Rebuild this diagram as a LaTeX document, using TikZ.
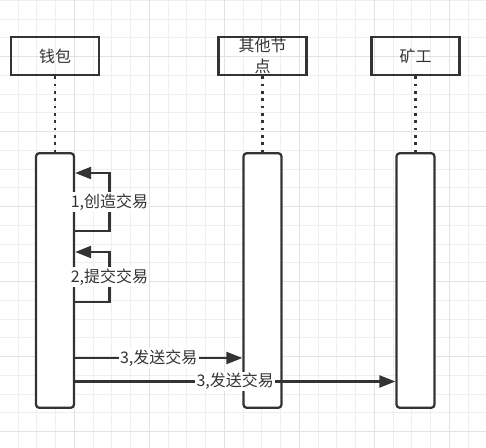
\documentclass[tikz,border=0pt]{standalone}
\usepackage{fontspec}
\setmainfont{Noto Sans CJK SC}
\usetikzlibrary{arrows.meta}
\definecolor{ink}{HTML}{333333}
\definecolor{gridminor}{HTML}{EFEFEF}
\definecolor{gridmajor}{HTML}{E2E2E2}
\tikzset{
  actor/.style={draw=ink,line width=2pt,minimum width=66pt,minimum height=28.5pt,
    inner sep=0pt,align=center,text=ink,font=\fontsize{12}{16.2}\selectfont},
  lifebar/.style={draw=ink,fill=white,line width=1.7pt,rounded corners=2.5pt,
    minimum width=28.5pt,minimum height=191pt},
  lifeline/.style={draw=ink,line width=2pt,dash pattern=on 2pt off 3.5pt},
  msg/.style={draw=ink,line width=1.7pt,-{Triangle[length=12pt,width=9pt]}},
  lbl/.style={fill=white,inner sep=1pt,text=ink,font=\fontsize{12}{14}\selectfont},
}
\begin{document}
\begin{tikzpicture}[x=0.75pt,y=-0.75pt]
  \useasboundingbox (0,0) rectangle (486,448);
  % grid
  \foreach \k in {1,...,25}
    \draw[gridminor,line width=0.75pt] ({18.75*\k-0.7},0) -- ({18.75*\k-0.7},448);
  \foreach \k in {0,...,23}
    \draw[gridminor,line width=0.75pt] (0,{18.75*\k+0.3}) -- (486,{18.75*\k+0.3});
  \foreach \k in {4,8,...,24}
    \draw[gridmajor,line width=0.75pt] ({18.75*\k-0.7},0) -- ({18.75*\k-0.7},448);
  \foreach \k in {3,7,...,23}
    \draw[gridmajor,line width=0.75pt] (0,{18.75*\k+0.3}) -- (486,{18.75*\k+0.3});

  \draw
    (55,56) node[actor] (wallet){钱包}
    (262.5,56) node[actor] (other){其他节\\点}
    (415.5,56) node[actor] (miner){矿工};
  \draw
    (55,280.5) node[lifebar] (walletbar){}
    (262.5,280.5) node[lifebar] (otherbar){}
    (415.5,280.5) node[lifebar] (minerbar){};
  \begin{scope}[lifeline]
    \draw (wallet.south) to (walletbar.north);
    \draw (other.south) to (otherbar.north);
    \draw (miner.south) to (minerbar.north);
  \end{scope}

  % messages
  \coordinate (c1a) at (109.5,231);
  \coordinate (c1b) at (109.5,173);
  \coordinate (c2a) at (109.5,302);
  \coordinate (c2b) at (109.5,252);
  \coordinate (m3a) at (0,358);
  \coordinate (m3b) at (0,381.5);
  \begin{scope}[msg]
    \draw (walletbar.east |- c1a) -- (c1a) -- node[lbl]{1,创造交易} (c1b) -- (walletbar.east |- c1b);
    \draw (walletbar.east |- c2a) -- (c2a) -- node[lbl]{2,提交交易} (c2b) -- (walletbar.east |- c2b);
    \draw (walletbar.east |- m3a) -- node[lbl]{3,发送交易} (otherbar.west |- m3a);
    \draw (walletbar.east |- m3b) -- node[lbl]{3,发送交易} (minerbar.west |- m3b);
  \end{scope}
\end{tikzpicture}
\end{document}
